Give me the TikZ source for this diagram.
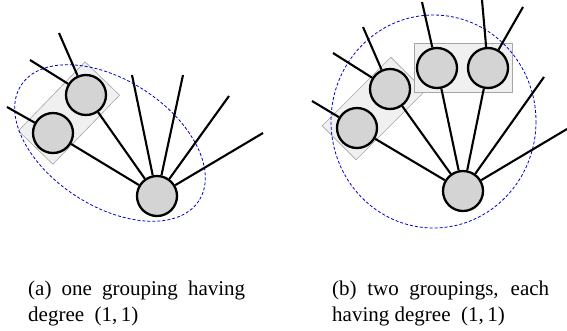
\documentclass[tikz,border=0pt]{standalone}
\usepackage{fontspec}
\setmainfont{Liberation Serif}
\usetikzlibrary{positioning}

\begin{document}
\begin{tikzpicture}[x=1pt,y=-1pt,
  vtx/.style={circle,draw,line width=2.3pt,fill=black!17,minimum size=40pt,inner sep=0pt},
  edge/.style={line width=2.1pt},
  grouping/.style={draw=black!35,fill=black!6,line width=0.6pt,inner sep=0pt},
  hull/.style={draw=blue!80!black,line width=0.8pt,dash pattern=on 3pt off 2pt},
  capt/.style={anchor=north west,text width=217pt,align=justify,inner sep=0pt,
    font=\fontsize{21}{26}\selectfont}]
  \useasboundingbox (0,0) rectangle (567,330);
  % (a) one grouping
  \begin{scope}
    \node[grouping,rotate=46,minimum width=96pt,minimum height=48pt] (ga) at (69,113) {};
    \draw[hull] (110,143) circle [x radius=106, y radius=63, rotate=-33];
    \node[vtx] (a1) at (86,95) {};
    \node[vtx] (a2) at (53,133) {};
    \node[vtx] (ab) at (157,196) {};
    \draw[edge] (a1) -- (ab);
    \draw[edge] (a2) -- (ab);
    \coordinate (a1x) at (59,33);
    \coordinate (a1y) at (30,60);
    \coordinate (a2x) at (7,107);
    \draw[edge] (a1) -- (a1x);
    \draw[edge] (a1) -- (a1y);
    \draw[edge] (a2) -- (a2x);
    \foreach \x/\y [count=\i] in {132/75,183/75,229/96,263/133} {
      \coordinate (abx\i) at (\x,\y);
      \draw[edge] (ab) -- (abx\i);
    }
  \end{scope}
  % (b) two groupings
  \begin{scope}
    \node[grouping,rotate=45,minimum width=97pt,minimum height=48pt] (gb1) at (373.5,108.5) {};
    \node[grouping,minimum width=98pt,minimum height=49pt] (gb2) at (463,67.5) {};
    \draw[hull] (433.5,121.5) circle [x radius=102.5, y radius=106.5];
    \node[vtx] (c1) at (357,128) {};
    \node[vtx] (c2) at (390,89) {};
    \node[vtx] (d1) at (437,68) {};
    \node[vtx] (d2) at (488,68) {};
    \node[vtx] (be) at (463,191) {};
    \foreach \n in {c1,c2,d1,d2} { \draw[edge] (\n) -- (be); }
    \coordinate (c1x) at (312,101);
    \coordinate (c2x) at (333,53);
    \coordinate (c2y) at (363,27);
    \coordinate (d1x) at (422,2);
    \coordinate (d2x) at (482,0);
    \coordinate (d2y) at (523,7);
    \draw[edge] (c1) -- (c1x);
    \draw[edge] (c2) -- (c2x);
    \draw[edge] (c2) -- (c2y);
    \draw[edge] (d1) -- (d1x);
    \draw[edge] (d2) -- (d2x);
    \draw[edge] (d2) -- (d2y);
    \coordinate (bex1) at (544,77);
    \coordinate (bex2) at (567,129);
    \draw[edge] (be) -- (bex1);
    \draw[edge] (be) -- (bex2);
  \end{scope}
  % captions
  \node[capt] (capa) at (28,281) {(a) one grouping having\linebreak degree\enspace(1,\,1)};
  \node[capt] (capb) at (332,281) {(b) two groupings, each\linebreak having degree\enspace(1,\,1)};
\end{tikzpicture}
\end{document}
